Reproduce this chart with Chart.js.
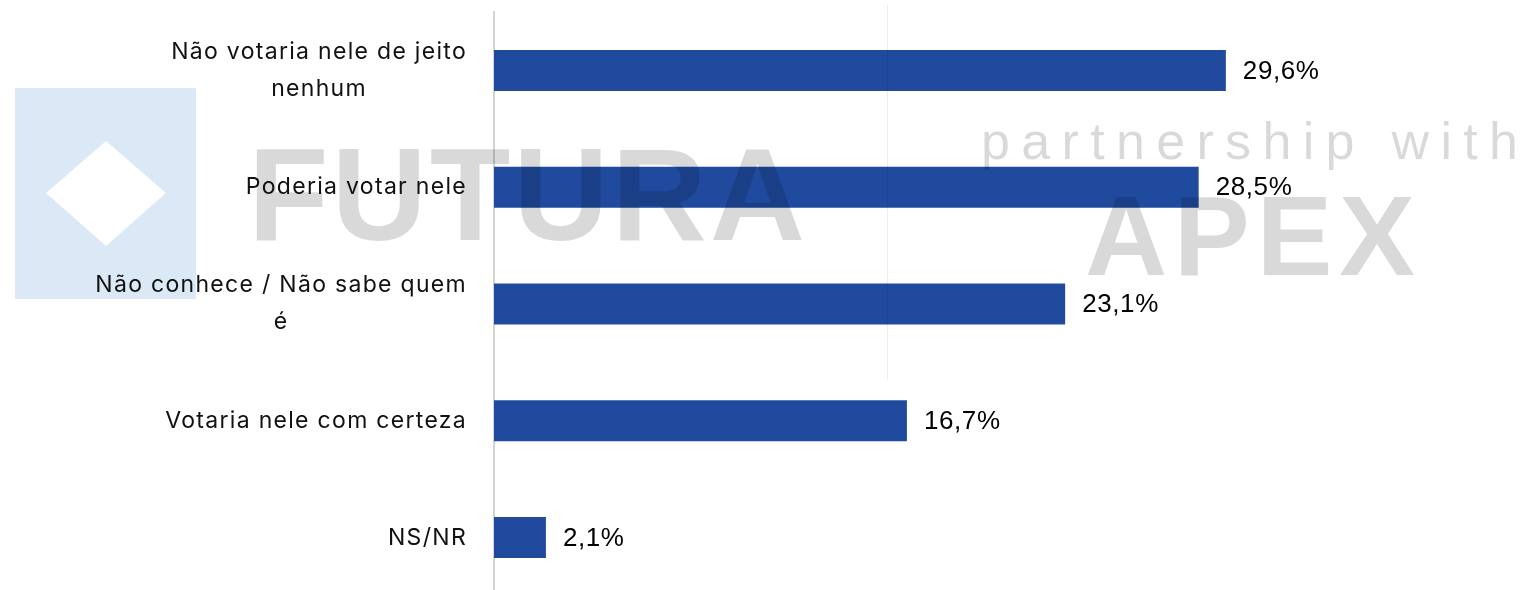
<!DOCTYPE html>
<html>
<head>
<meta charset="utf-8">
<script src="https://cdn.jsdelivr.net/npm/chart.js@4.4.1/dist/chart.umd.min.js"></script>
<style>
  html, body { margin: 0; padding: 0; background: #ffffff; overflow: hidden; }
  #wrap { width: 1526px; height: 590px; overflow: hidden; }
  canvas { display: block; }
</style>
</head>
<body>
<div id="wrap"><canvas id="c" width="1526" height="600"></canvas></div>
<script>
// ---- data ----
const categories = [
  ["Não votaria nele de jeito", "nenhum"],
  ["Poderia votar nele"],
  ["Não conhece / Não sabe quem", "é"],
  ["Votaria nele com certeza"],
  ["NS/NR"]
];
const values = [29.6, 28.5, 23.1, 16.7, 2.1];
const valueLabels = ["29,6%", "28,5%", "23,1%", "16,7%", "2,1%"];
const watermarkLeft = "FUTURA";
const watermarkTop = "partnership with";
const watermarkRight = "APEX";

const BAR_COLOR = "#1f4a9e";

function drawWatermark(ctx) {
  ctx.save();
  // light blue square with white diamond
  ctx.fillStyle = "#dbe9f6";
  ctx.fillRect(15, 88, 181, 211);
  ctx.fillStyle = "#ffffff";
  ctx.beginPath();
  ctx.moveTo(106, 141);
  ctx.lineTo(166, 193);
  ctx.lineTo(106, 246);
  ctx.lineTo(46, 193);
  ctx.closePath();
  ctx.fill();

  // faint separator line
  ctx.fillStyle = "rgba(0,0,0,0.07)";
  ctx.fillRect(887, 5, 1, 375);

  ctx.fillStyle = "rgba(0,0,0,0.15)";
  ctx.textBaseline = "alphabetic";
  ctx.textAlign = "left";
  // FUTURA
  ctx.font = "bold 132px 'Liberation Sans', Arial, sans-serif";
  fitText(ctx, watermarkLeft, 248, 240, 557);
  // APEX
  ctx.font = "bold 114px 'Liberation Sans', Arial, sans-serif";
  fitText(ctx, watermarkRight, 1085, 275, 330);
  // partnership with
  ctx.font = "52px 'Liberation Sans', Arial, sans-serif";
  fitText(ctx, watermarkTop, 981, 159, 537);
  ctx.restore();
}

// draw text char by char spread to given total width
function fitText(ctx, text, x, y, totalW) {
  const chars = Array.from(text);
  const widths = chars.map(c => ctx.measureText(c).width);
  const natural = widths.reduce((a, b) => a + b, 0);
  const gap = chars.length > 1 ? (totalW - natural) / (chars.length - 1) : 0;
  let cx = x;
  chars.forEach((c, i) => {
    ctx.fillText(c, cx, y);
    cx += widths[i] + gap;
  });
}

const overlayPlugin = {
  id: "overlay",
  afterDatasetsDraw(chart) {
    const ctx = chart.ctx;
    drawWatermark(ctx);
    const yScale = chart.scales.y;
    const meta = chart.getDatasetMeta(0);

    // category labels
    ctx.save();
    ctx.fillStyle = "#111111";
    ctx.font = "23px Inter, 'Open Sans', sans-serif";
    if ('letterSpacing' in ctx) ctx.letterSpacing = "1.3px";
    ctx.textBaseline = "middle";
    ctx.textAlign = "center";
    const lineH = 37;
    const rightX = 467;
    categories.forEach((lines, i) => {
      const cy = yScale.getPixelForValue(i);
      const blockW = Math.max(...lines.map(l => ctx.measureText(l).width));
      const centerX = rightX - blockW / 2;
      const startY = cy - (lines.length - 1) * lineH / 2;
      lines.forEach((l, j) => {
        ctx.fillText(l, centerX, startY + j * lineH);
      });
    });
    ctx.restore();

    // value labels
    ctx.save();
    ctx.fillStyle = "#000000";
    ctx.font = "26px 'Liberation Sans', Arial, sans-serif";
    if ('letterSpacing' in ctx) ctx.letterSpacing = "0.6px";
    ctx.textBaseline = "middle";
    ctx.textAlign = "left";
    meta.data.forEach((bar, i) => {
      ctx.fillText(valueLabels[i], bar.x + 17, bar.y + 1);
    });
    ctx.restore();
  }
};

new Chart(document.getElementById("c"), {
  type: "bar",
  data: {
    labels: categories.map(l => l.join(" ")),
    datasets: [{
      data: values,
      backgroundColor: BAR_COLOR,
      borderWidth: 0,
      barPercentage: 0.351,
      categoryPercentage: 1
    }]
  },
  options: {
    indexAxis: "y",
    responsive: false,
    animation: false,
    layout: { padding: { left: 494, top: 12, bottom: 4, right: 43 } },
    scales: {
      x: { display: false, min: 0, max: 40 },
      y: {
        ticks: { display: false },
        grid: { display: false, drawTicks: false },
        border: { display: true, color: "#d3d3d3", width: 2 },
        afterFit(s) { s.width = 0; }
      }
    },
    plugins: {
      legend: { display: false },
      tooltip: { enabled: false }
    }
  },
  plugins: [overlayPlugin]
});
</script>
</body>
</html>
